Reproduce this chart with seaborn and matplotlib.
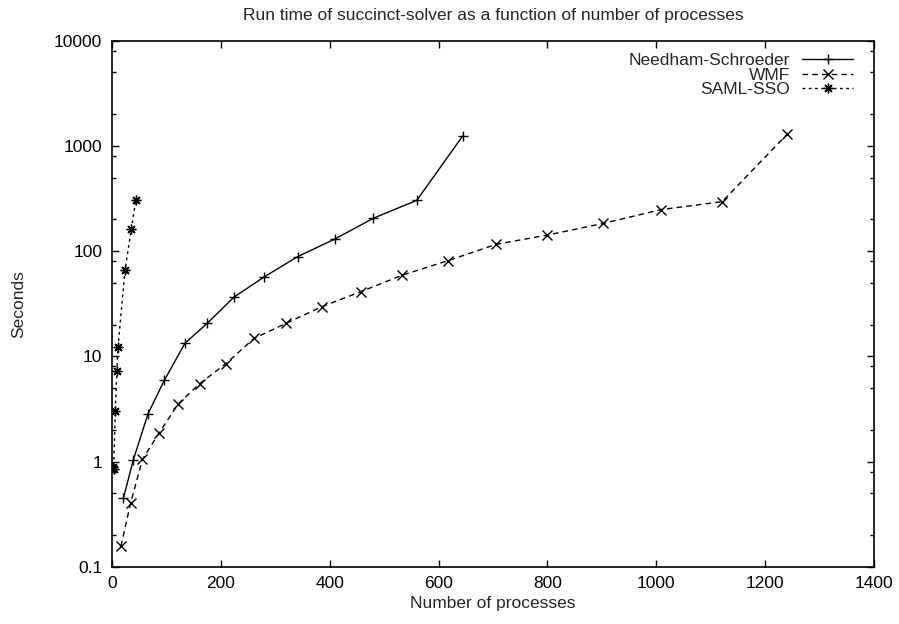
import matplotlib
matplotlib.use("Agg")
import matplotlib.pyplot as plt
import seaborn as sns
import numpy as np
from matplotlib.ticker import FixedLocator, LogLocator, FuncFormatter, NullFormatter

# values
ns_procs = [21, 39, 66, 96, 134, 175, 224, 280, 341, 409, 480, 560, 644]
ns_secs = [0.45, 1.03, 2.83, 5.9, 13.3, 20.6, 36.5, 57, 88.5, 130, 205, 304, 1237]

wmf_procs = [16.5, 34, 56, 86, 121, 161, 209, 261, 320, 386, 458, 533, 617,
             706, 800, 902, 1009, 1121, 1240]
wmf_secs = [0.157, 0.40, 1.05, 1.85, 3.49, 5.5, 8.5, 14.8, 20.6, 29.7, 41.3,
            59, 81, 116, 142, 183, 248, 295, 1285]

saml_procs = [2, 3, 6, 9, 11, 24, 35.5, 43.5]
saml_secs = [0.89, 0.84, 3.04, 7.3, 12.2, 66.5, 163, 304]

x_ticks = [0, 200, 400, 600, 800, 1000, 1200, 1400]
y_ticks = [0.1, 1, 10, 100, 1000, 10000]

FS = 12.5

sns.set_style("ticks")
plt.rcParams['font.family'] = ['Liberation Sans', 'DejaVu Sans']
plt.rcParams['font.size'] = FS

fig = plt.figure(figsize=(8.99, 6.24), dpi=100)
ax = fig.add_axes([0.1246, 0.0918, 0.8476, 0.8430])

common = dict(color='black', lw=1.0, ms=7, mew=1.0, markeredgecolor='black',
              estimator=None, errorbar=None, ax=ax)
sns.lineplot(x=ns_procs, y=ns_secs, label='Needham-Schroeder', marker='+',
             linestyle='-', **common)
sns.lineplot(x=wmf_procs, y=wmf_secs, label='WMF', marker='x',
             linestyle=(0, (4, 3)), **common)
sns.lineplot(x=saml_procs, y=saml_secs, label='SAML-SSO', marker=(8, 2, 0),
             linestyle=(0, (2, 2.5)), **common)

ax.set_yscale('log')
ax.set_xlim(0, 1400)
ax.set_ylim(0.1, 10000)
ax.xaxis.set_major_locator(FixedLocator(x_ticks))
ax.yaxis.set_major_locator(FixedLocator(y_ticks))
ax.yaxis.set_major_formatter(FuncFormatter(lambda v, p: f"{v:g}"))
ax.yaxis.set_minor_locator(LogLocator(base=10, subs=[2, 5, 8]))
ax.yaxis.set_minor_formatter(NullFormatter())

ax.tick_params(which='both', direction='in', top=True, right=True,
               width=1.0, colors='black', labelsize=FS, pad=7)
ax.tick_params(which='major', length=5)
ax.tick_params(which='minor', length=3)
for s in ax.spines.values():
    s.set_linewidth(1.2)
    s.set_color('black')

ax.set_xlabel('Number of processes', fontsize=FS)
ax.set_ylabel('Seconds', fontsize=FS)
ax.xaxis.set_label_coords(0.5, -0.056)
ax.yaxis.set_label_coords(-0.112, 0.5)
ax.set_title('Run time of succinct-solver as a function of number of processes',
             fontsize=FS, pad=15)

ax.legend(loc='upper right', bbox_to_anchor=(0.988, 1.0), frameon=False,
          markerfirst=False, alignment='right', handlelength=2.9,
          handletextpad=0.7, labelspacing=-0.03, borderaxespad=0.3,
          fontsize=FS)

fig.savefig('out.png', dpi=100)
